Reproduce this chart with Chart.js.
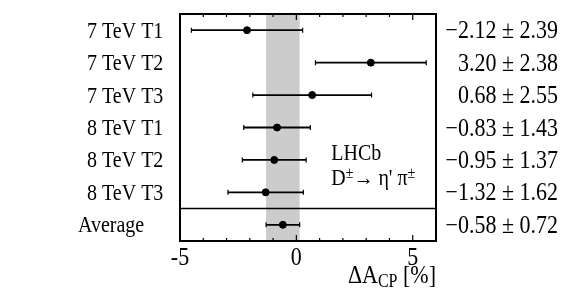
<!DOCTYPE html>
<html><head><meta charset="utf-8">
<script src="https://cdn.jsdelivr.net/npm/chart.js@4"></script>
<style>html,body{margin:0;padding:0;background:#fff}#wrap{width:565px;height:302px}</style>
</head><body><div id="wrap"><canvas id="c" width="565" height="302"></canvas></div>
<script>
const categories = ['7 TeV T1','7 TeV T2','7 TeV T3','8 TeV T1','8 TeV T2','8 TeV T3','Average'];
const values = [-2.12, 3.20, 0.68, -0.83, -0.95, -1.32, -0.58];
const errors = [2.39, 2.38, 2.55, 1.43, 1.37, 1.62, 0.72];
const valueLabels = ['\u22122.12 \u00b1 2.39','3.20 \u00b1 2.38','0.68 \u00b1 2.55','\u22120.83 \u00b1 1.43','\u22120.95 \u00b1 1.37','\u22121.32 \u00b1 1.62','\u22120.58 \u00b1 0.72'];
const xTickValues = [-5, 0, 5];
const xTickLabels = ['-5', '0', '5'];
const xMinorStep = 1;
const avgIndex = 6;

const FONT = '"Liberation Serif", "DejaVu Serif", serif';
const SY = 1.12;

function txt(ctx, s, x, y, font, align) {
  ctx.save();
  ctx.font = font;
  ctx.textAlign = align;
  ctx.textBaseline = 'alphabetic';
  ctx.translate(x, y);
  ctx.scale(1, SY);
  ctx.fillText(s, 0, 0);
  ctx.restore();
}

const drawPlugin = {
  id: 'custom',
  beforeDatasetsDraw(chart) {
    const ctx = chart.ctx, ca = chart.chartArea;
    const xs = chart.scales.x, ys = chart.scales.y;
    ctx.save();
    const b0 = xs.getPixelForValue(values[avgIndex] - errors[avgIndex]);
    const b1 = xs.getPixelForValue(values[avgIndex] + errors[avgIndex]);
    ctx.fillStyle = '#cccccc';
    ctx.fillRect(b0, ca.top, b1 - b0, ca.bottom - ca.top);
    ctx.strokeStyle = '#000';
    values.forEach((v, i) => {
      const y = ys.getPixelForValue(i);
      const xa = xs.getPixelForValue(v - errors[i]);
      const xb = xs.getPixelForValue(v + errors[i]);
      ctx.lineWidth = 1.8;
      ctx.beginPath();
      ctx.moveTo(xa, y); ctx.lineTo(xb, y);
      ctx.stroke();
      ctx.lineWidth = 1.2;
      ctx.beginPath();
      ctx.moveTo(xa, y - 2.5); ctx.lineTo(xa, y + 2.5);
      ctx.moveTo(xb, y - 2.5); ctx.lineTo(xb, y + 2.5);
      ctx.stroke();
    });
    ctx.restore();
  },
  afterDatasetsDraw(chart) {
    const ctx = chart.ctx, ca = chart.chartArea;
    const xs = chart.scales.x, ys = chart.scales.y;
    ctx.save();
    ctx.strokeStyle = '#000';
    ctx.lineWidth = 1.5;
    const ySep = ys.getPixelForValue(avgIndex - 0.5);
    ctx.beginPath(); ctx.moveTo(ca.left, ySep); ctx.lineTo(ca.right, ySep); ctx.stroke();
    ctx.lineWidth = 1.2;
    for (let v = xs.min; v <= xs.max + 1e-9; v += xMinorStep) {
      const x = xs.getPixelForValue(v);
      const major = xTickValues.includes(Math.round(v));
      const len = major ? 6 : 3;
      ctx.beginPath();
      ctx.moveTo(x, ca.bottom); ctx.lineTo(x, ca.bottom - len);
      ctx.moveTo(x, ca.top); ctx.lineTo(x, ca.top + len);
      ctx.stroke();
    }
    ctx.lineWidth = 2;
    ctx.strokeRect(ca.left, ca.top, ca.right - ca.left, ca.bottom - ca.top);
    ctx.fillStyle = '#000';
    xTickValues.forEach((v, i) => {
      txt(ctx, xTickLabels[i], xs.getPixelForValue(v), ca.bottom + 24, '22px ' + FONT, 'center');
    });
    const big = '22px ' + FONT, small = '16px ' + FONT;
    ctx.font = big; const w1 = ctx.measureText('\u0394A').width;
    ctx.font = small; const w2 = ctx.measureText('CP').width;
    ctx.font = big; const w3 = ctx.measureText(' [%]').width;
    let tx = ca.right - (w1 + w2 + w3);
    const ty = ca.bottom + 42;
    txt(ctx, '\u0394A', tx, ty, big, 'left'); tx += w1;
    txt(ctx, 'CP', tx, ty + 4, small, 'left'); tx += w2;
    txt(ctx, ' [%]', tx, ty, big, 'left');
    categories.forEach((c, i) => {
      const y = ys.getPixelForValue(i) + 7.5;
      txt(ctx, c, ca.left - (i === avgIndex ? 102 : 93), y, '20px ' + FONT, 'left');
    });
    valueLabels.forEach((t, i) => {
      txt(ctx, t, chart.width - 7, ys.getPixelForValue(i) + 8, '22px ' + FONT, 'right');
    });
    const lx = xs.getPixelForValue(1.5);
    txt(ctx, 'LHCb', lx, ys.getPixelForValue(3.8) + 7, '20px ' + FONT, 'left');
    let px = lx; const py = ys.getPixelForValue(4.55) + 7;
    const parts = [['D', false], ['\u00b1', true], ['\u2192 \u03b7\' \u03c0', false], ['\u00b1', true]];
    parts.forEach(([s, sup]) => {
      const f = (sup ? '14px ' : '20px ') + FONT;
      txt(ctx, s, px, sup ? py - 7 : py, f, 'left');
      ctx.font = f;
      px += ctx.measureText(s).width;
    });
    ctx.restore();
  }
};

new Chart(document.getElementById('c'), {
  type: 'scatter',
  data: {
    datasets: [{
      data: values.map((v, i) => ({ x: v, y: i })),
      backgroundColor: '#000', borderColor: '#000',
      pointRadius: 3.5, pointHoverRadius: 3.5
    }]
  },
  options: {
    responsive: false, animation: false,
    layout: { padding: { left: 180, right: 129, top: 14, bottom: 61 } },
    plugins: { legend: { display: false }, tooltip: { enabled: false } },
    scales: {
      x: { type: 'linear', min: -5, max: 6, display: false },
      y: { type: 'linear', min: -0.5, max: 6.5, reverse: true, display: false }
    }
  },
  plugins: [drawPlugin]
});
</script>
</body></html>
